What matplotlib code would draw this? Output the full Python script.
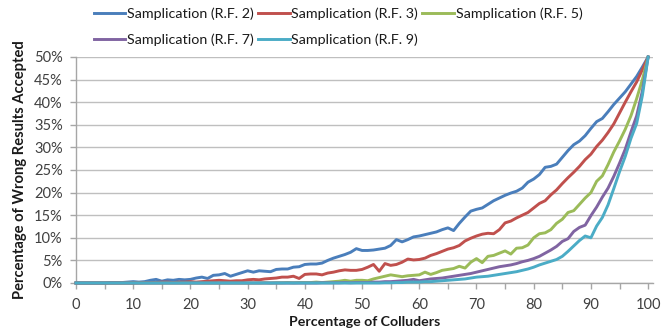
import numpy as np
import matplotlib
matplotlib.use("Agg")
import matplotlib.pyplot as plt
from matplotlib.ticker import FuncFormatter

plt.rcParams['font.family'] = ['Lato', 'DejaVu Sans']

# Percentage of colluders (x) and percentage of wrong results accepted (y)
colluders = list(range(0, 101))

rf2 = [0, 0, 0, 0, 0, 0, 0.1, 0.1, 0.1, 0.2,
       0.3, 0.2, 0.3, 0.6, 0.8, 0.4, 0.7, 0.6, 0.8, 0.7,
       0.8, 1.1, 1.3, 1.0, 1.7, 1.8, 2.1, 1.5, 1.9, 2.3,
       2.7, 2.4, 2.7, 2.6, 2.5, 3.0, 3.1, 3.1, 3.5, 3.6,
       4.1, 4.2, 4.2, 4.4, 5.0, 5.5, 5.9, 6.3, 6.8, 7.6,
       7.2, 7.2, 7.3, 7.5, 7.7, 8.3, 9.6, 9.1, 9.6, 10.2,
       10.4, 10.7, 11.0, 11.3, 11.8, 12.2, 11.6, 13.2, 14.6, 15.9,
       16.3, 16.6, 17.4, 18.2, 18.8, 19.4, 19.9, 20.3, 21.0, 22.3,
       23.0, 24.0, 25.6, 25.8, 26.3, 27.8, 29.3, 30.6, 31.4, 32.6,
       34.2, 35.7, 36.4, 37.9, 39.5, 40.9, 42.3, 44.0, 45.7, 47.8,
       50.0]

rf3 = [0, 0, 0, 0, 0, 0, 0, 0, 0, 0,
       0, 0.05, 0.1, 0.1, 0.1, 0.2, 0.2, 0.1, 0.2, 0.2,
       0.3, 0.2, 0.3, 0.4, 0.5, 0.6, 0.5, 0.4, 0.5, 0.5,
       0.7, 0.8, 0.7, 0.9, 1.0, 1.1, 1.3, 1.3, 1.5, 1.0,
       1.9, 2.0, 2.0, 1.8, 2.2, 2.4, 2.7, 2.9, 2.8, 2.8,
       3.0, 3.5, 4.1, 2.6, 4.3, 3.9, 4.1, 4.6, 5.3, 5.1,
       5.2, 5.5, 6.1, 6.5, 7.0, 7.5, 7.8, 8.3, 9.3, 9.9,
       10.4, 10.8, 11.0, 10.9, 11.8, 13.3, 13.7, 14.4, 15.0, 15.6,
       16.6, 17.6, 18.2, 19.5, 20.6, 22.0, 23.3, 24.5, 25.8, 27.3,
       28.5, 30.2, 31.6, 33.3, 35.2, 37.6, 40.0, 42.3, 44.5, 47.2,
       50.0]

rf5 = [0, 0, 0, 0, 0, 0, 0, 0, 0, 0,
       0, 0, 0, 0, 0, 0, 0, 0, 0, 0,
       0, 0, 0, 0, 0, 0, 0, 0, 0, 0,
       0, 0, 0, 0.05, 0, 0.05, 0.05, 0.1, 0.05, 0.1,
       0.1, 0.1, 0.2, 0.1, 0.2, 0.3, 0.4, 0.6, 0.4, 0.6,
       0.6, 0.5, 0.9, 1.2, 1.5, 1.8, 1.6, 1.4, 1.6, 1.7,
       1.8, 2.4, 1.9, 2.3, 2.8, 3.0, 3.2, 3.7, 3.3, 4.6,
       5.4, 4.5, 5.9, 6.1, 6.6, 7.1, 6.4, 7.7, 7.8, 8.4,
       10.0, 10.9, 11.1, 11.8, 13.2, 14.1, 15.6, 16.0, 17.4, 18.8,
       20.0, 22.5, 23.7, 26.2, 29.0, 31.4, 34.0, 37.0, 40.8, 45.0,
       50.0]

rf7 = [0, 0, 0, 0, 0, 0, 0, 0, 0, 0,
       0, 0, 0, 0, 0, 0, 0, 0, 0, 0,
       0, 0, 0, 0, 0, 0, 0, 0, 0, 0,
       0, 0, 0, 0, 0, 0, 0, 0, 0, 0,
       0, 0, 0, 0.05, 0.05, 0.05, 0.05, 0.1, 0.05, 0.1,
       0.1, 0.1, 0.2, 0.2, 0.3, 0.3, 0.4, 0.5, 0.6, 0.8,
       0.5, 0.7, 0.9, 1.0, 1.1, 1.3, 1.5, 1.7, 1.9, 2.1,
       2.4, 2.7, 3.0, 3.3, 3.6, 3.8, 4.0, 4.3, 4.7, 5.0,
       5.4, 5.9, 6.6, 7.3, 8.1, 9.2, 9.8, 11.4, 12.3, 12.8,
       14.9, 16.8, 19.0, 21.0, 23.6, 26.5, 29.6, 33.4, 37.0, 42.5,
       50.0]

rf9 = [0, 0, 0, 0, 0, 0, 0, 0, 0, 0,
       0, 0, 0, 0, 0, 0, 0, 0, 0, 0,
       0, 0, 0, 0, 0, 0, 0, 0, 0, 0,
       0, 0, 0, 0, 0, 0, 0, 0, 0, 0,
       0, 0, 0, 0, 0, 0, 0, 0, 0, 0,
       0, 0, 0, 0, 0.05, 0.05, 0.1, 0.1, 0.2, 0.2,
       0.2, 0.3, 0.3, 0.4, 0.5, 0.6, 0.7, 0.8, 0.9, 1.1,
       1.3, 1.4, 1.5, 1.7, 1.9, 2.1, 2.3, 2.5, 2.8, 3.1,
       3.5, 4.0, 4.4, 4.8, 5.2, 5.9, 7.0, 8.2, 9.4, 10.4,
       10.0, 12.6, 14.5, 17.3, 20.9, 24.6, 28.0, 32.0, 35.3, 41.5,
       50.0]

series_labels = ["Samplication (R.F. 2)", "Samplication (R.F. 3)",
                 "Samplication (R.F. 5)", "Samplication (R.F. 7)",
                 "Samplication (R.F. 9)"]
series_colors = ["#4A7EBB", "#C0504D", "#9BBB59", "#8064A2", "#4BACC6"]

x_ticks = list(range(0, 101, 5))
y_ticks = list(range(0, 51, 5))

W, H = 672, 334
fig = plt.figure(figsize=(W / 100, H / 100), dpi=100)
ax = fig.add_axes([76 / W, 1 - 283 / H, 576.7 / W, 226 / H])

lines = []
for ys, lab, col in zip([rf2, rf3, rf5, rf7, rf9], series_labels, series_colors):
    ln, = ax.plot(colluders, ys, color=col, lw=2.1, label=lab,
                  solid_joinstyle='round', zorder=3, clip_on=False)
    lines.append(ln)

ax.set_xlim(0, 100.8)
ax.set_ylim(0, 50)
ax.set_xticks(x_ticks)
ax.xaxis.set_major_formatter(FuncFormatter(lambda v, p: f"{int(v)}" if int(v) % 10 == 0 else ""))
ax.set_yticks(y_ticks)
ax.yaxis.set_major_formatter(FuncFormatter(lambda v, p: f"{int(v)}%"))

ax.grid(axis='y', color='#BFBFBF', lw=1.0, zorder=0)
ax.grid(axis='x', visible=False)
for s in ['top', 'right']:
    ax.spines[s].set_visible(False)
for s in ['left', 'bottom']:
    ax.spines[s].set_color('#A6A6A6')
    ax.spines[s].set_linewidth(1.0)

ax.tick_params(axis='both', colors='#A6A6A6', labelcolor='#404040',
               labelsize=10.5, length=4.5, width=1.0, direction='out')
ax.tick_params(axis='x', pad=6)
ax.tick_params(axis='y', pad=5)

ax.set_xlabel("Percentage of Colluders", fontsize=10.2, fontweight='bold',
              color='#1A1A1A', labelpad=3)
ax.set_ylabel("Percentage of Wrong Results Accepted", fontsize=10.6,
              fontweight='bold', color='#1A1A1A', labelpad=5)

order = [0, 3, 1, 4, 2]
leg = fig.legend([lines[i] for i in order], [series_labels[i] for i in order],
                 ncol=3, loc='upper left', bbox_to_anchor=(86 / W, 1.0),
                 frameon=False, fontsize=10.3, handlelength=2.2,
                 handletextpad=0.12, columnspacing=0.3, labelspacing=0.92,
                 borderaxespad=0.15)
for t in leg.get_texts():
    t.set_color('#1A1A1A')

fig.savefig("out.png", dpi=100)
